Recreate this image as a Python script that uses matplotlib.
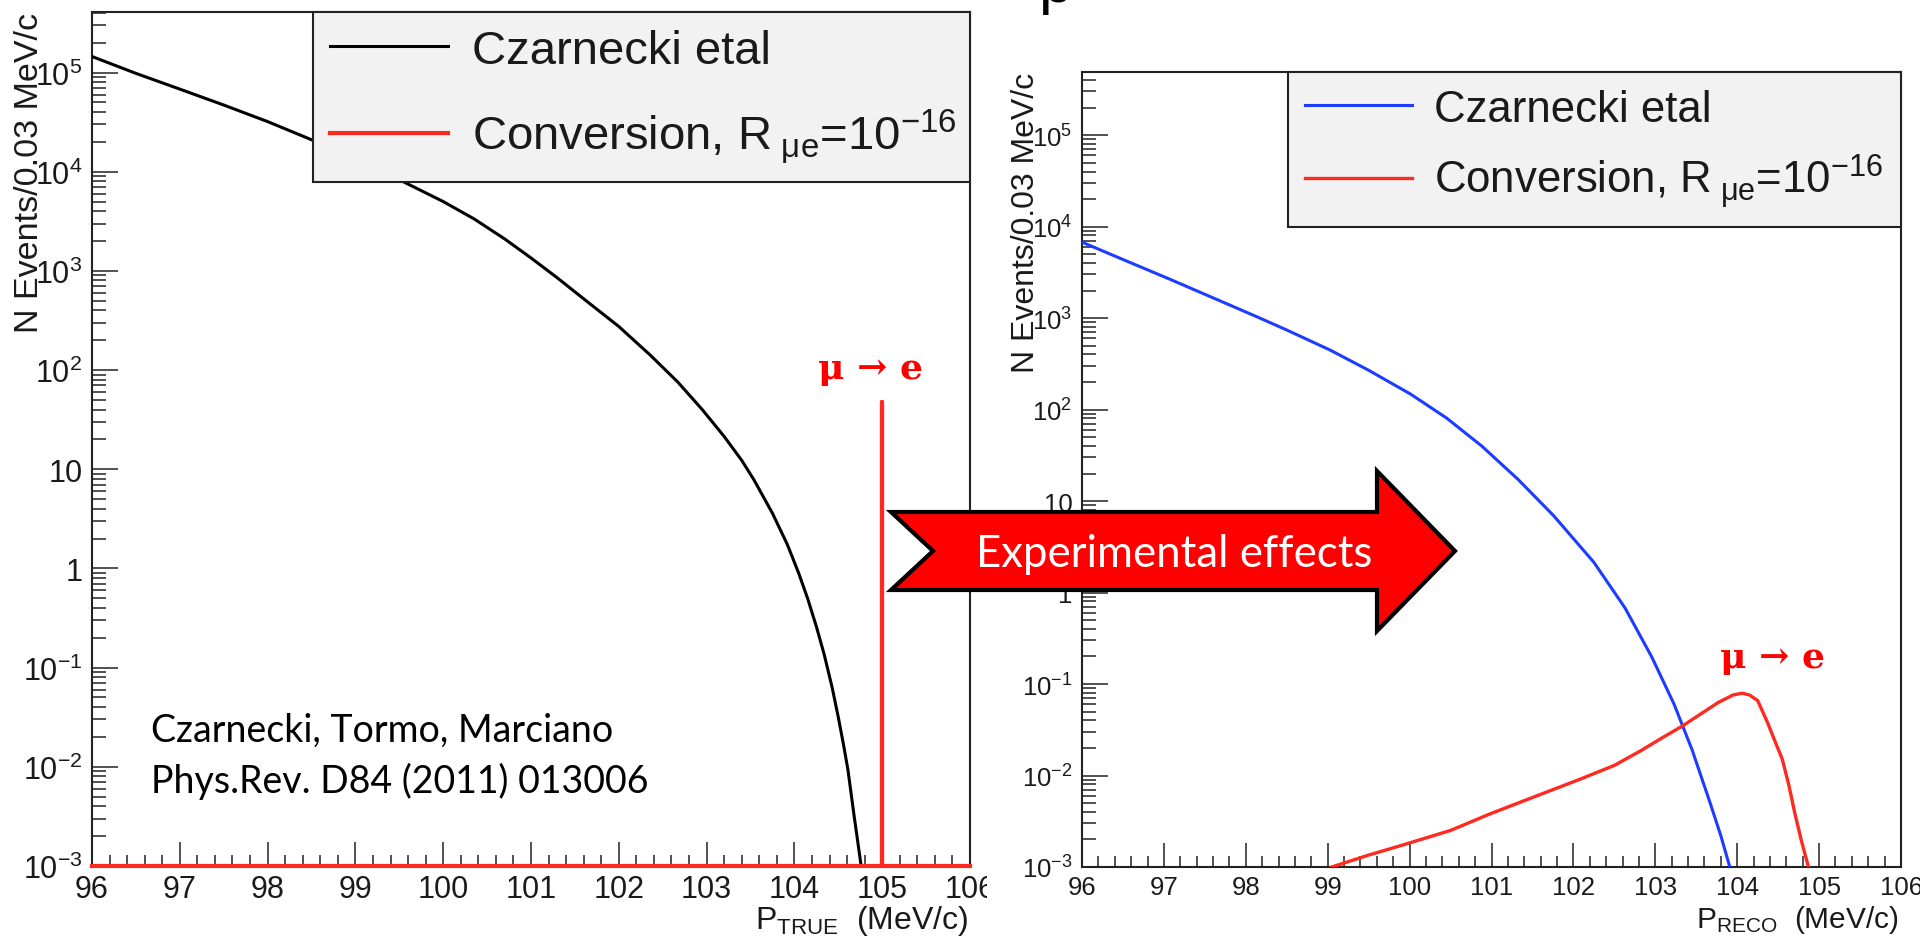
import numpy as np
import matplotlib
matplotlib.use("Agg")
import matplotlib.pyplot as plt
from matplotlib.ticker import LogLocator, MultipleLocator, FixedLocator, FuncFormatter, NullFormatter
from matplotlib.patches import Polygon, Rectangle

plt.rcParams['font.family'] = ['Liberation Sans', 'DejaVu Sans']
plt.rcParams['mathtext.fontset'] = 'custom'
plt.rcParams['mathtext.rm'] = 'Liberation Sans'
plt.rcParams['mathtext.it'] = 'Liberation Sans:italic'
plt.rcParams['mathtext.bf'] = 'Liberation Sans:bold'

# ---------------- data ----------------
# left panel: true momentum spectrum (Czarnecki et al. DIO), events / 0.03 MeV/c
p_true = [96.0, 96.5, 97.0, 97.5, 98.0, 98.5, 99.0, 99.5, 100.0, 100.35, 100.7, 101.0,
          101.3, 101.64, 102.0, 102.36, 102.67, 102.95, 103.2, 103.4, 103.54, 103.75,
          103.92, 104.05, 104.15, 104.25, 104.34, 104.43, 104.5, 104.56, 104.61, 104.68,
          104.72, 104.76]
n_true_dio = [1.45e5, 9.8e4, 6.8e4, 4.7e4, 3.2e4, 2.1e4, 1.35e4, 8.3e3, 5.0e3, 3.35e3, 2.1e3, 1.35e3,
              850, 490, 275, 141, 76, 40, 21.4, 12.3, 7.8, 3.6,
              1.74, 0.89, 0.50, 0.26, 0.135, 0.063, 0.0316, 0.0166, 0.0093, 0.0032,
              0.0018, 0.001]
# conversion signal (single bin at 105 MeV/c, zero elsewhere -> drawn at the axis floor)
p_true_conv = [96.0, 105.0, 105.0, 105.0, 106.0]
n_true_conv = [1e-3, 1e-3, 48.0, 1e-3, 1e-3]

# right panel: reconstructed momentum
p_reco_dio = [96.0, 96.5, 97.06, 97.5, 98.15, 98.5, 99.03, 99.5, 100.01, 100.45, 100.88,
              101.32, 101.76, 102.25, 102.63, 102.96, 103.23, 103.45, 103.67, 103.8, 103.91]
n_reco_dio = [6760, 4370, 2690, 1820, 1020, 741, 447, 269, 148, 81, 40,
              17.4, 6.9, 2.14, 0.68, 0.195, 0.060, 0.019, 0.0050, 0.0022, 0.001]
p_reco_conv = [99.05, 99.5, 99.88, 100.5, 100.98, 101.5, 102.08, 102.5, 102.82, 103.08,
               103.33, 103.55, 103.77, 103.95, 104.06, 104.15, 104.25, 104.37, 104.45,
               104.55, 104.63, 104.7, 104.78, 104.87]
n_reco_conv = [0.001, 0.00135, 0.0017, 0.00251, 0.0038, 0.00575, 0.0091, 0.0129, 0.0186, 0.0257,
               0.0347, 0.0468, 0.063, 0.0759, 0.0794, 0.0759, 0.066, 0.038, 0.0251,
               0.0151, 0.0079, 0.0040, 0.0020, 0.001]

y_major_ticks = [1e-3, 1e-2, 1e-1, 1, 10, 1e2, 1e3, 1e4, 1e5]
x_major_ticks = [96, 97, 98, 99, 100, 101, 102, 103, 104, 105, 106]

legend_labels = ['Czarnecki etal', r'Conversion, R$_{\ \mathregular{\mu e}}$=10$^{\mathregular{-16}}$']
ylabel_text = 'N Events/0.03 MeV/c'
xlabel_left = r'P$_{\mathregular{TRUE}}$  (MeV/c)'
xlabel_right = r'P$_{\mathregular{RECO}}$  (MeV/c)'
citation = ['Czarnecki, Tormo, Marciano', 'Phys.Rev. D84 (2011) 013006']
signal_label = 'μ → e'
arrow_label = 'Experimental effects'

# ---------------- figure ----------------
W, H = 1920, 945
fig = plt.figure(figsize=(W / 100, H / 100), dpi=100)
fig.patch.set_facecolor('white')

def fx(px):
    return px / W

def fy(py):
    return 1 - py / H

L_BOX = (92, 13, 970, 867)
R_BOX = (1082, 73, 1901, 868)
axL = fig.add_axes([fx(L_BOX[0]), fy(L_BOX[3]), (L_BOX[2] - L_BOX[0]) / W, (L_BOX[3] - L_BOX[1]) / H], zorder=0)
axR = fig.add_axes([fx(R_BOX[0]), fy(R_BOX[3]), (R_BOX[2] - R_BOX[0]) / W, (R_BOX[3] - R_BOX[1]) / H], zorder=2)

RED = '#ff2a1f'
BLUE = '#1e3cff'
FRAME = '#222222'

def logfmt(v, pos):
    e = int(round(np.log10(v)))
    if e == 0:
        return '1'
    if e == 1:
        return '10'
    return r'$\mathregular{10^{%d}}$' % e

def style(ax, ytop, tfs):
    ax.set_yscale('log')
    ax.set_xlim(96, 106)
    ax.set_ylim(1e-3, ytop)
    ax.xaxis.set_major_locator(FixedLocator(x_major_ticks))
    ax.xaxis.set_minor_locator(MultipleLocator(0.2))
    ax.yaxis.set_major_locator(FixedLocator(y_major_ticks))
    ax.yaxis.set_minor_locator(LogLocator(base=10, subs=np.arange(2, 10), numticks=30))
    ax.yaxis.set_major_formatter(FuncFormatter(logfmt))
    ax.yaxis.set_minor_formatter(NullFormatter())
    ax.tick_params(which='both', direction='in', top=False, right=False,
                   width=1.1, color='#222222', labelcolor='#1a1a1a', labelsize=tfs)
    ax.tick_params(axis='x', which='major', length=17, pad=6)
    ax.tick_params(axis='x', which='minor', length=8)
    ax.tick_params(axis='y', which='major', length=19, pad=7)
    ax.tick_params(axis='y', which='minor', length=10)
    for s in ax.spines.values():
        s.set_color(FRAME)
        s.set_linewidth(1.5)

style(axL, 10 ** 5.61, 22)
style(axR, 10 ** 5.69, 18.5)

# left curves
lL1, = axL.plot(p_true, n_true_dio, color='black', lw=2.2, zorder=3)
lL2, = axL.plot(p_true_conv, n_true_conv, color=RED, lw=3, zorder=4, clip_on=False)

# right curves
lR1, = axR.plot(p_reco_dio, n_reco_dio, color=BLUE, lw=2.2, zorder=3)
lR2, = axR.plot(p_reco_conv, n_reco_conv, color=RED, lw=2.4, zorder=4)

# legends
def make_legend(ax, handles, box, fs, hl, bp, ls):
    x0, y0, x1, y1 = box
    leg = ax.legend(handles, legend_labels, loc='upper right',
                    bbox_to_anchor=(fx(x0), fy(y1), (x1 - x0) / W, (y1 - y0) / H),
                    bbox_transform=fig.transFigure, mode='expand', borderaxespad=0,
                    fontsize=fs, handlelength=hl, handletextpad=0.5, borderpad=bp,
                    labelspacing=ls, fancybox=False, framealpha=1,
                    facecolor='#f2f2f2', edgecolor=FRAME)
    leg.get_frame().set_linewidth(1.5)
    for t in leg.get_texts():
        t.set_color('#1a1a1a')
    return leg

make_legend(axL, [lL1, lL2], (313, 13, 970, 173), 34, 2.5, 0.36, 0.72)
make_legend(axR, [lR1, lR2], (1288, 73, 1901, 223), 31.5, 2.45, 0.38, 0.5)

# axis labels (ROOT style: titles aligned with the top / right end of the axes)
for ax, box, xr, fs in [(axL, L_BOX, 45, 24.5), (axR, R_BOX, 1041, 23)]:
    ax.set_ylabel(ylabel_text, fontsize=fs, color='#1a1a1a', loc='top')
    ax.yaxis.set_label_coords((xr - box[0]) / (box[2] - box[0]), 1.0)

for ax, box, lab, fs in [(axL, L_BOX, xlabel_left, 23), (axR, R_BOX, xlabel_right, 21.5)]:
    ax.set_xlabel(lab, fontsize=fs, color='#1a1a1a', loc='right')
    ax.xaxis.set_label_coords(1.0 - 2 / (box[2] - box[0]), -(904 - box[3]) / (box[3] - box[1]))

# white strip: the right picture is pasted over the left one's last tick label
fig.add_artist(Rectangle((fx(987), 0), 1 - fx(987), fy(873), transform=fig.transFigure,
                         facecolor='white', edgecolor='none', zorder=1))

# citation
fig.text(fx(151), fy(742), citation[0], fontsize=27, family='Lato', va='baseline', color='black', zorder=3)
fig.text(fx(151), fy(793), citation[1], fontsize=27, family='Lato', va='baseline', color='black', zorder=3)

# mu -> e labels
for x, y in [(870, 379), (1772, 668)]:
    fig.text(fx(x), fy(y), signal_label, ha='center', va='baseline', fontsize=26,
             color='#ff0000', fontweight='bold', family=['DejaVu Serif'], zorder=3)

# big arrow
arrow_px = [(891, 513), (1377, 513), (1377, 472), (1455, 552), (1377, 632),
            (1377, 591), (891, 591), (933, 552)]
fig.add_artist(Polygon([(fx(a), fy(b)) for a, b in arrow_px], closed=True,
                       transform=fig.transFigure, facecolor='#ff0000', edgecolor='black',
                       linewidth=3, joinstyle='miter', zorder=10))
fig.text(fx(1174), fy(567), arrow_label, ha='center', va='baseline', fontsize=31.5,
         family='Lato', color='white', zorder=11)

# fragment of a slide title cut by the top edge
fig.text(fx(1038), fy(2), 'p', fontsize=44, va='baseline', color='black', zorder=3)

fig.savefig('out.png', dpi=100, facecolor='white')
